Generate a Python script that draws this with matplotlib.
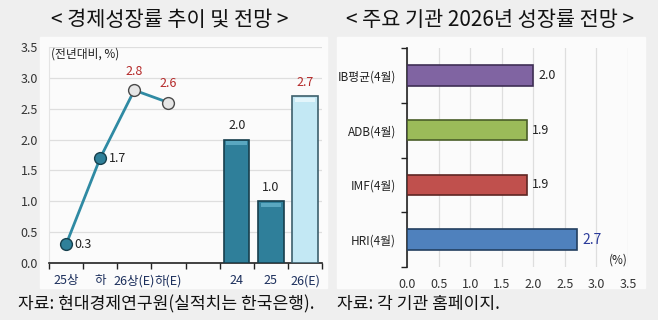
#!/usr/bin/env python3
'''
Two panel chart: Korean growth trend / outlook and 2026 growth forecasts
by major institutions. Saved to out.png.
'''

import numpy as np
import matplotlib
matplotlib.use('Agg')
from matplotlib import pyplot as plt
from matplotlib.patches import Rectangle

plt.rcParams['font.family'] = ['Noto Sans CJK KR', 'DejaVu Sans']

# left panel: half-year line + yearly bars
HALF_LABELS = ['25상', '하', '26상(E)', '하(E)']
HALF_VALUES = [0.3, 1.7, 2.8, 2.6]
HALF_FORECAST = [False, False, True, True]
YEAR_LABELS = ['24', '25', '26(E)']
YEAR_VALUES = [2.0, 1.0, 2.7]
YEAR_FORECAST = [False, False, True]

# right panel: institutions
INST_LABELS = ['IB평균(4월)', 'ADB(4월)', 'IMF(4월)', 'HRI(4월)']
INST_VALUES = [2.0, 1.9, 1.9, 2.7]
INST_COLORS = ['#8064a2', '#9bbb59', '#c0504d', '#4f81bd']
INST_EDGES = ['#3f2f55', '#4a5e28', '#5e2624', '#233f60']
INST_VALUE_COLORS = ['#222222', '#222222', '#222222', '#2a3a9a']

BG = '#efefef'
PANEL = '#fbfbfb'
GRID = '#dedede'
TEAL = '#2f8aa3'
RED = '#b52a2a'
NAVY = '#1c2f5c'

fig = plt.figure(figsize=(6.58, 3.2), dpi=100, facecolor=BG)

# white panels behind the plots
fig.add_artist(Rectangle((40 / 658, 1 - 288 / 320), 287 / 658, 251 / 320,
                         transform=fig.transFigure, color=PANEL, zorder=0))
fig.add_artist(Rectangle((337 / 658, 1 - 288 / 320), 308 / 658, 251 / 320,
                         transform=fig.transFigure, color=PANEL, zorder=0))

# ---------------- left panel ----------------
ax = fig.add_axes([49 / 658, 1 - 263 / 320, 273 / 658, 216 / 320])
ax.set_facecolor('none')

labels = HALF_LABELS + [''] + YEAR_LABELS
pos = np.arange(len(labels))
half_x = pos[:len(HALF_VALUES)]
year_x = pos[len(HALF_VALUES) + 1:]

ax.plot(half_x, HALF_VALUES, color=TEAL, lw=2.0, zorder=3)
for x, v, fc in zip(half_x, HALF_VALUES, HALF_FORECAST):
    if fc:
        ax.plot(x, v, 'o', ms=8.5, mfc='#e6e6e6', mec='#4a4a4a', mew=1.0, zorder=4)
        ax.text(x, v + 0.2, '%.1f' % v, color=RED, fontsize=9,
                ha='center', va='bottom')
    else:
        ax.plot(x, v, 'o', ms=8.5, mfc='#2f8099', mec='#16404d', mew=1.0, zorder=4)
        ax.text(x + 0.25, v, '%.1f' % v, color='#222222', fontsize=9,
                ha='left', va='center')

for x, v, fc in zip(year_x, YEAR_VALUES, YEAR_FORECAST):
    face = '#c3e8f4' if fc else '#2f7f9a'
    edge = '#3d5f6c' if fc else '#173f4d'
    cap = '#e3f5fb' if fc else '#5aa7c0'
    ax.bar(x, v, width=0.75, color=face, edgecolor=edge, lw=1.2, zorder=3)
    ax.bar(x, 0.06, bottom=v - 0.09, width=0.6, color=cap, lw=0, zorder=4)
    ax.text(x, v + 0.12, '%.1f' % v, color=RED if fc else '#222222',
            fontsize=9, ha='center', va='bottom')

ax.set_xlim(-0.5, len(labels) - 0.5)
ax.set_ylim(0, 3.5)
ax.set_yticks(np.arange(0, 3.51, 0.5))
ax.set_yticklabels(['%.1f' % t for t in np.arange(0, 3.51, 0.5)],
                   fontsize=9, color='#333333')
ax.set_xticks(np.arange(-0.5, len(labels)), labels=[''] * (len(labels) + 1))
ax.set_xticks(pos, labels=labels, minor=True)
ax.tick_params(axis='x', which='major', length=4, width=1, color='#222222',
               direction='out')
ax.tick_params(axis='x', which='minor', length=0, labelsize=9,
               labelcolor=NAVY, pad=8)
ax.tick_params(axis='y', length=0, pad=8)
ax.grid(axis='y', color=GRID, lw=0.9, zorder=0)
ax.set_axisbelow(True)
for s in ['top', 'right']:
    ax.spines[s].set_visible(False)
ax.spines['left'].set_color('#e4e4e4')
ax.spines['bottom'].set_color('#222222')
ax.spines['bottom'].set_linewidth(1.2)
ax.text(-0.45, 3.38, '(전년대비, %)', fontsize=8.5, color='#222222',
        ha='left', va='center')

# ---------------- right panel ----------------
bx = fig.add_axes([407 / 658, 1 - 267 / 320, 221 / 658, 219 / 320])
bx.set_facecolor('none')
ypos = np.arange(len(INST_LABELS))
for y, v, c, e, tc in zip(ypos, INST_VALUES, INST_COLORS, INST_EDGES,
                          INST_VALUE_COLORS):
    bx.barh(y, v, height=0.37, color=c, edgecolor=e, lw=1.2, zorder=3)
    big = tc != '#222222'
    bx.text(v + 0.08, y, '%.1f' % v, color=tc, fontsize=10 if big else 9,
            ha='left', va='center')
bx.set_ylim(len(INST_LABELS) - 0.5, -0.5)
bx.set_xlim(0, 3.5)
bx.set_xticks(np.arange(0, 3.51, 0.5))
bx.set_xticklabels(['%.1f' % t for t in np.arange(0, 3.51, 0.5)],
                   fontsize=9, color='#333333')
bx.set_yticks(np.arange(-0.5, len(INST_LABELS)), labels=[''] * (len(INST_LABELS) + 1))
bx.set_yticks(ypos, labels=INST_LABELS, minor=True)
bx.tick_params(axis='y', which='major', length=4, width=1, color='#222222')
bx.tick_params(axis='y', which='minor', length=0, labelsize=8.5,
               labelcolor='#222222', pad=8)
bx.tick_params(axis='x', length=0, pad=8)
bx.grid(axis='x', color=GRID, lw=0.9, zorder=0)
bx.set_axisbelow(True)
for s in ['top', 'right', 'bottom']:
    bx.spines[s].set_visible(False)
bx.spines['left'].set_color('#222222')
bx.spines['left'].set_linewidth(1.2)
bx.text(3.5, 3.38, '(%)', fontsize=8.5, color='#222222', ha='right',
        va='center')

# titles and sources
fig.text(170 / 658, 1 - 20 / 320, '< 경제성장률 추이 및 전망 >', fontsize=15,
         ha='center', va='center', color='#111111')
fig.text(490 / 658, 1 - 20 / 320, '< 주요 기관 2026년 성장률 전망 >', fontsize=15,
         ha='center', va='center', color='#111111')
fig.text(18 / 658, 1 - 304 / 320, '자료: 현대경제연구원(실적치는 한국은행).',
         fontsize=12.3, ha='left', va='center', color='#111111')
fig.text(337 / 658, 1 - 304 / 320, '자료: 각 기관 홈페이지.',
         fontsize=12.3, ha='left', va='center', color='#111111')

plt.savefig('out.png', dpi=100, facecolor=BG)
